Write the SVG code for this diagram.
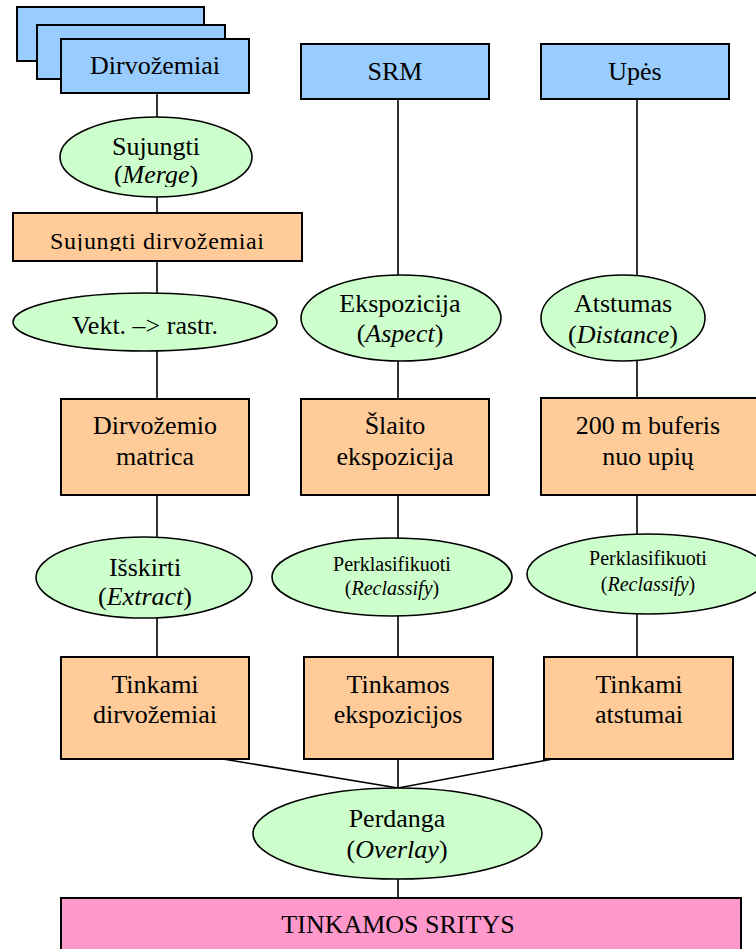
<svg xmlns="http://www.w3.org/2000/svg" width="756" height="949" viewBox="0 0 756 949">
<style>
.t,.s,.m{font-family:"Liberation Serif","Times New Roman",Times,"DejaVu Serif","Noto Serif",serif;fill:#000;text-anchor:middle}
.t{font-size:26px}
.s{font-size:20px}
.m{font-size:24px}
.blue{fill:#99CCFF;stroke:#000;stroke-width:2}
.org{fill:#FFCC99;stroke:#000;stroke-width:2}
.pink{fill:#FF99CC;stroke:#000;stroke-width:2}
.ell{fill:#CCFFCC;stroke:#000;stroke-width:1.6}
.c line{stroke:#000;stroke-width:1.6}
</style>
<defs>
<clipPath id="clipSuj"><rect x="14" y="214" width="287" height="37"/></clipPath>
<clipPath id="clipMerge"><rect x="60" y="117" width="192" height="70"/></clipPath>
</defs>
<rect width="756" height="949" fill="#fff"/>
<g class="c" id="connectors">
<line x1="157" y1="93" x2="157" y2="117"/>
<line x1="157" y1="197" x2="157" y2="213"/>
<line x1="157" y1="261" x2="157" y2="293"/>
<line x1="157" y1="351" x2="157" y2="399"/>
<line x1="157" y1="495" x2="157" y2="537"/>
<line x1="157" y1="617" x2="157" y2="657"/>
<line x1="398" y1="99" x2="398" y2="275"/>
<line x1="398" y1="361" x2="398" y2="399"/>
<line x1="398" y1="495" x2="398" y2="538"/>
<line x1="398" y1="616" x2="398" y2="657"/>
<line x1="637" y1="99" x2="637" y2="275"/>
<line x1="637" y1="361" x2="637" y2="398"/>
<line x1="637" y1="495" x2="637" y2="534"/>
<line x1="637" y1="614" x2="637" y2="657"/>
<line x1="223" y1="759" x2="398" y2="788"/>
<line x1="398" y1="759" x2="398" y2="788"/>
<line x1="553" y1="759" x2="398" y2="788"/>
<line x1="398" y1="879" x2="398" y2="898"/>
</g>
<g id="dirvozemiai">
<rect class="blue" x="17" y="7" width="187" height="54"/>
<rect class="blue" x="37" y="25" width="188" height="54"/>
<rect class="blue" x="61" y="39" width="188" height="54"/>
<text class="t" x="155" y="74">Dirvožemiai</text>
</g>
<g id="srm">
<rect class="blue" x="301" y="44" width="188" height="55"/>
<text class="t" x="395" y="80">SRM</text>
</g>
<g id="upes">
<rect class="blue" x="541" y="44" width="188" height="55"/>
<text class="t" x="635" y="80">Upės</text>
</g>
<g id="sujungti">
<ellipse class="ell" cx="156" cy="157" rx="96" ry="40"/>
<g clip-path="url(#clipMerge)">
<text class="t" x="156" y="155">Sujungti</text>
<text class="t" x="156" y="183">(<tspan font-style="italic">Merge</tspan>)</text>
</g>
</g>
<g id="sujungti-dirvozemiai">
<rect class="org" x="13" y="213" width="289" height="48"/>
<text class="m" x="157" y="249" clip-path="url(#clipSuj)" textLength="214" lengthAdjust="spacing">Sujungti dirvožemiai</text>
</g>
<g id="vekt-rastr">
<ellipse class="ell" cx="145" cy="322" rx="132" ry="29"/>
<text class="t" x="145" y="334">Vekt. –&gt; rastr.</text>
</g>
<g id="ekspozicija">
<ellipse class="ell" cx="401" cy="318" rx="100" ry="43"/>
<text class="t" x="400" y="312">Ekspozicija</text>
<text class="t" x="400" y="342">(<tspan font-style="italic">Aspect</tspan>)</text>
</g>
<g id="atstumas">
<ellipse class="ell" cx="623" cy="318" rx="82" ry="43"/>
<text class="t" x="623" y="312">Atstumas</text>
<text class="t" x="623" y="343">(<tspan font-style="italic">Distance</tspan>)</text>
</g>
<g id="dirvozemio-matrica">
<rect class="org" x="61" y="399" width="188" height="96"/>
<text class="t" x="155" y="434">Dirvožemio</text>
<text class="t" x="155" y="465">matrica</text>
</g>
<g id="slaito-ekspozicija">
<rect class="org" x="301" y="399" width="188" height="96"/>
<text class="t" x="395" y="434">Šlaito</text>
<text class="t" x="395" y="465">ekspozicija</text>
</g>
<g id="buferis">
<rect class="org" x="541" y="398" width="218" height="97"/>
<text class="t" x="648" y="434">200 m buferis</text>
<text class="t" x="648" y="465">nuo upių</text>
</g>
<g id="isskirti">
<ellipse class="ell" cx="144" cy="577.5" rx="108" ry="40.5"/>
<text class="t" x="145" y="576">Išskirti</text>
<text class="t" x="145" y="605">(<tspan font-style="italic">Extract</tspan>)</text>
</g>
<g id="perklasifikuoti-1">
<ellipse class="ell" cx="392" cy="577" rx="120" ry="39"/>
<text class="s" x="392" y="571">Perklasifikuoti</text>
<text class="s" x="392" y="595">(<tspan font-style="italic">Reclassify</tspan>)</text>
</g>
<g id="perklasifikuoti-2">
<ellipse class="ell" cx="648" cy="574" rx="121" ry="40"/>
<text class="s" x="648" y="565">Perklasifikuoti</text>
<text class="s" x="648" y="591">(<tspan font-style="italic">Reclassify</tspan>)</text>
</g>
<g id="tinkami-dirvozemiai">
<rect class="org" x="61" y="657" width="188" height="102"/>
<text class="t" x="155" y="693">Tinkami</text>
<text class="t" x="155" y="723">dirvožemiai</text>
</g>
<g id="tinkamos-ekspozicijos">
<rect class="org" x="304" y="657" width="189" height="102"/>
<text class="t" x="398" y="693">Tinkamos</text>
<text class="t" x="398" y="723">ekspozicijos</text>
</g>
<g id="tinkami-atstumai">
<rect class="org" x="544" y="657" width="189" height="102"/>
<text class="t" x="639" y="693">Tinkami</text>
<text class="t" x="639" y="723">atstumai</text>
</g>
<g id="perdanga">
<ellipse class="ell" cx="397.5" cy="833.5" rx="144.5" ry="45.5"/>
<text class="t" x="397" y="827">Perdanga</text>
<text class="t" x="397" y="858">(<tspan font-style="italic">Overlay</tspan>)</text>
</g>
<g id="tinkamos-sritys">
<rect class="pink" x="61" y="898" width="680" height="56"/>
<text class="t" x="398" y="933">TINKAMOS SRITYS</text>
</g>
</svg>
